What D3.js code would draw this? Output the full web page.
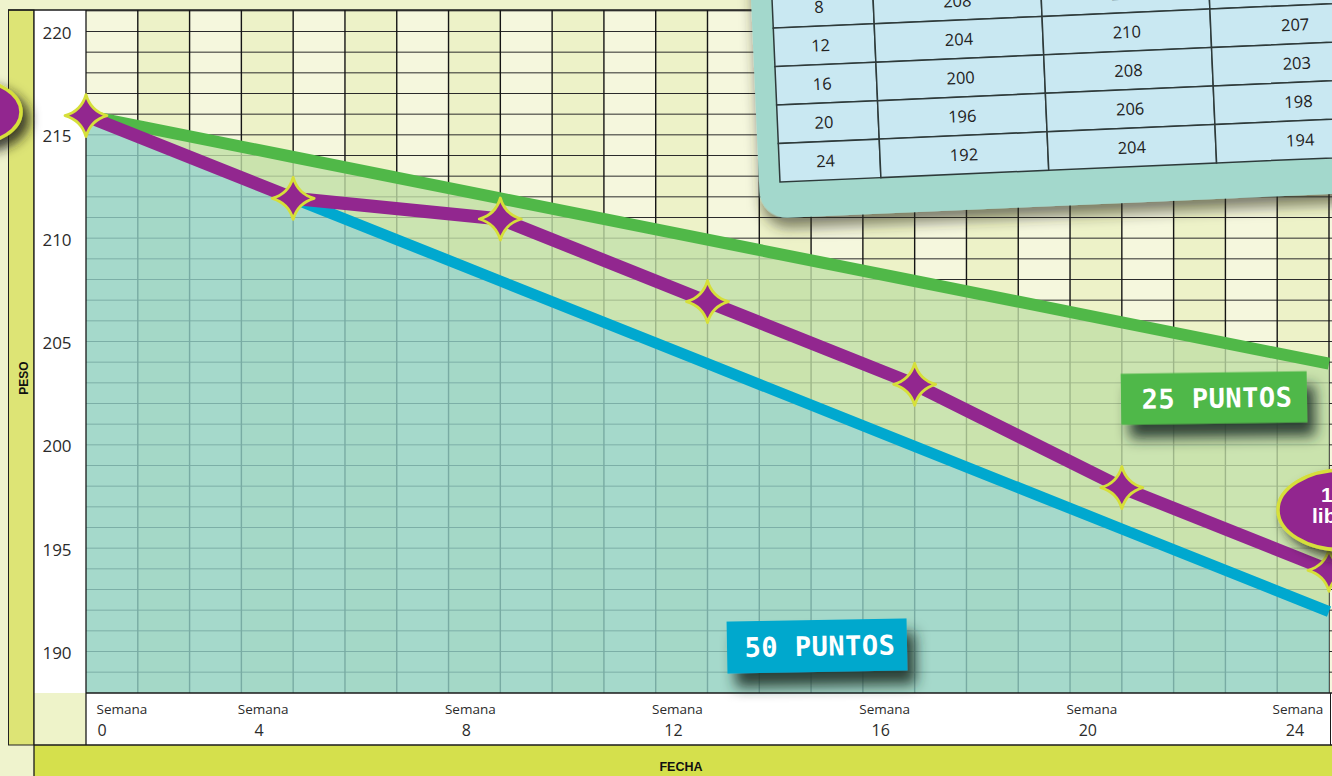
<!DOCTYPE html>
<html><head><meta charset="utf-8">
<script src="https://cdn.jsdelivr.net/npm/d3@7/dist/d3.min.js"></script>
<style>html,body{margin:0;padding:0;background:#eff3cd;overflow:hidden}svg{display:block}</style>
</head><body>
<svg id="c" width="1332" height="776"></svg>
<script>
// ---- data ----
const weeks   = [0, 4, 8, 12, 16, 20, 24];
const plan50  = [216, 212, 208, 204, 200, 196, 192];
const plan25  = [216, 214, 212, 210, 208, 206, 204];
const actual  = [216, 212, 211, 207, 203, 198, 194];
const yTicks  = [190, 195, 200, 205, 210, 215, 220];
const xTickWord = "Semana";
const tableHeader = ["Semana", "50 puntos", "25 puntos", "Real"];
const label50 = "50 PUNTOS";
const label25 = "25 PUNTOS";
const badgeText = ["12", "libras"];
const yTitle = "PESO";
const xTitle = "FECHA";

const W = 1332, H = 776;
const svg = d3.select("#c");
const x = d3.scaleLinear().domain([0, 24]).range([86, 1329]);
const y = d3.scaleLinear().domain([190, 220]).range([653, 33]);
const PL = 86, PR = W, PT = 10, PB = 693;

const defs = svg.append("defs");
defs.append("clipPath").attr("id", "plot").append("rect")
  .attr("x", PL).attr("y", PT).attr("width", PR - PL).attr("height", PB - PT);
function shadow(id, dx, dy, sd, op, col) {
  const f = defs.append("filter").attr("id", id)
    .attr("x", "-30%").attr("y", "-40%").attr("width", "170%").attr("height", "220%");
  f.append("feDropShadow").attr("dx", dx).attr("dy", dy).attr("stdDeviation", sd)
    .attr("flood-color", col).attr("flood-opacity", op);
}
shadow("shLab", 8, 14, 7, 0.9, "#1c3128");
shadow("shCard", 2, 10, 7, 0.6, "#2a2a1a");
shadow("shBadge", 7, 7, 6, 0.85, "#1e2418");

// ---- frame / bands ----
svg.append("rect").attr("width", W).attr("height", H).attr("fill", "#eff3cd");
svg.append("rect").attr("x", 8.5).attr("y", PT).attr("width", 25.5).attr("height", 745 - PT)
  .attr("fill", "#dde475").attr("stroke", "#222").attr("stroke-width", 1);
svg.append("rect").attr("x", 34).attr("y", PT).attr("width", PL - 34).attr("height", PB - PT).attr("fill", "#fff");
svg.append("rect").attr("x", 34).attr("y", PB).attr("width", PL - 34).attr("height", 745 - PB).attr("fill", "#eef3c9");
svg.append("rect").attr("x", PL).attr("y", PB).attr("width", W - PL).attr("height", 745 - PB).attr("fill", "#fff");
svg.append("rect").attr("x", 34).attr("y", 745).attr("width", W - 34).attr("height", H - 745).attr("fill", "#d5e04c");

// ---- plot ----
const g = svg.append("g").attr("clip-path", "url(#plot)");
const cols = d3.range(0, 25);
g.selectAll("rect.col").data(cols).join("rect").attr("class", "col")
  .attr("x", d => x(d)).attr("y", PT).attr("width", x(1) - x(0) + 1).attr("height", PB - PT)
  .attr("fill", d => d % 2 ? "#edf2c8" : "#f5f7dd");

const hLines = d3.range(189, 222);
g.selectAll("line.h").data(hLines).join("line").attr("class", "h")
  .attr("x1", PL).attr("x2", PR).attr("y1", d => y(d) - 1.5).attr("y2", d => y(d) - 1.5)
  .attr("stroke", "#2b2b2b").attr("stroke-width", 1);
g.selectAll("line.v").data(d3.range(1, 26)).join("line").attr("class", "v")
  .attr("x1", d => x(d)).attr("x2", d => x(d)).attr("y1", PT).attr("y2", PB)
  .attr("stroke", "#151515").attr("stroke-width", 1.4);

const pts = weeks.map((w, i) => ({ w, a: plan50[i], b: plan25[i], c: actual[i] }));
g.append("path").datum(pts)
  .attr("d", d3.area().x(d => x(d.w)).y0(d => y(d.a)).y1(d => y(d.b)))
  .attr("fill", "#c0dea6").attr("opacity", 0.8);
g.append("path").datum(pts)
  .attr("d", d3.area().x(d => x(d.w)).y0(PB).y1(d => y(d.a)))
  .attr("fill", "#91d1c7").attr("opacity", 0.8);

const line = key => d3.line().x(d => x(d.w)).y(d => y(d[key]));
g.append("path").datum(pts).attr("d", line("a")).attr("fill", "none")
  .attr("stroke", "#00a8cf").attr("stroke-width", 11);
g.append("path").datum(pts).attr("d", line("b")).attr("fill", "none")
  .attr("stroke", "#50b848").attr("stroke-width", 12);
g.append("path").datum(pts).attr("d", line("c")).attr("fill", "none")
  .attr("stroke", "#92278f").attr("stroke-width", 13);

// borders
const bl = (x1, y1, x2, y2, w) => svg.append("line").attr("x1", x1).attr("y1", y1).attr("x2", x2).attr("y2", y2)
  .attr("stroke", "#1a1a1a").attr("stroke-width", w || 1.3);
bl(8, PT, W, PT, 1.5);
bl(PL, PT, PL, 745);
bl(34, PT, 34, H);
bl(PL, PB, W, PB, 1.5);
bl(34, 745, W, 745, 1.3);
bl(1330.5, PB, 1330.5, 745, 1);

// stars
function starPath(r) {
  const c = r * 0.22;
  return `M0,${-r}Q${c},${-c} ${r},0Q${c},${c} 0,${r}Q${-c},${c} ${-r},0Q${-c},${-c} 0,${-r}Z`;
}
svg.selectAll("path.star").data(pts).join("path").attr("class", "star")
  .attr("transform", d => `translate(${x(d.w)},${y(d.c)})`)
  .attr("d", starPath(21)).attr("fill", "#92278f")
  .attr("stroke", "#d6df3a").attr("stroke-width", 2.8).attr("stroke-linejoin", "round");

// labels
function tag(cx, cy, rot, w, h, fill, text, fs) {
  const t = svg.append("g").attr("transform", `translate(${cx},${cy}) rotate(${rot})`);
  t.append("rect").attr("x", -w / 2).attr("y", -h / 2).attr("width", w).attr("height", h)
    .attr("fill", fill).attr("filter", "url(#shLab)");
  t.append("text").attr("x", 3).attr("y", fs * 0.36).attr("text-anchor", "middle")
    .attr("font-family", "DejaVu Sans Mono").attr("font-weight", "bold").attr("font-size", fs)
    .attr("letter-spacing", 0.5).attr("fill", "#fff").text(text);
}
tag(1214, 398, -0.8, 186, 51, "#50b848", label25, 27);
tag(817, 646, -1, 180, 52, "#00a8cd", label50, 27);

// table card
const card = svg.append("g").attr("transform", "translate(780,182) rotate(-2.5)");
card.append("rect").attr("x", -21).attr("y", -440).attr("width", 720).attr("height", 476)
  .attr("rx", 27).attr("fill", "#a3d8cc").attr("filter", "url(#shCard)");
const colX = [0, 101, 269, 437, 606];
const rowH = 38.5;
const rows = [tableHeader].concat(weeks.map((w, i) => [String(w), String(plan50[i]), String(plan25[i]), String(actual[i])]));
const nR = rows.length;
rows.forEach((r, ri) => {
  const top = -rowH * (nR - ri);
  r.forEach((v, ci) => {
    card.append("rect").attr("x", colX[ci]).attr("y", top).attr("width", colX[ci + 1] - colX[ci]).attr("height", rowH)
      .attr("fill", "#c9e8f2").attr("stroke", "#2e3a3a").attr("stroke-width", 1.5);
    card.append("text").attr("x", (colX[ci] + colX[ci + 1]) / 2 - (ci === 0 ? 4 : 0)).attr("y", top + rowH / 2 + 6)
      .attr("text-anchor", "middle").attr("font-family", "Open Sans").attr("font-size", 16.5)
      .attr("fill", "#222").text(v);
  });
});

// badges
function badge(cx, cy, rx, ry, lines) {
  const b = svg.append("g");
  b.append("ellipse").attr("cx", cx).attr("cy", cy).attr("rx", rx).attr("ry", ry)
    .attr("fill", "#92278f").attr("stroke", "#d6df3a").attr("stroke-width", 3.5)
    .attr("filter", "url(#shBadge)");
  lines.forEach((l, i) => b.append("text").attr("x", l.x).attr("y", l.y)
    .attr("font-family", "Liberation Sans").attr("font-weight", "bold").attr("font-size", 21)
    .attr("fill", "#fff").text(l.t));
}
badge(-29, 112, 50, 32, []);
badge(1343, 510, 65, 40, [{ t: badgeText[0], x: 1321, y: 502 }, { t: badgeText[1], x: 1312, y: 523 }]);

// y tick labels
svg.selectAll("text.yt").data(yTicks).join("text").attr("class", "yt")
  .attr("x", 57).attr("y", d => y(d) + 6).attr("text-anchor", "middle")
  .attr("font-family", "Open Sans").attr("font-size", 17).attr("fill", "#2b2b2b").text(d => d);

// x tick labels
const clamp = (v, a, b) => Math.max(a, Math.min(b, v));
svg.selectAll("text.xw").data(weeks).join("text").attr("class", "xw")
  .attr("x", d => clamp(x(d) - 30, 122, 1298)).attr("y", 714).attr("text-anchor", "middle")
  .attr("font-family", "Open Sans").attr("font-size", 13.5).attr("fill", "#2b2b2b").text(xTickWord);
svg.selectAll("text.xn").data(weeks).join("text").attr("class", "xn")
  .attr("x", d => clamp(x(d) - 34, 102, 1301)).attr("y", 736).attr("text-anchor", "middle")
  .attr("font-family", "Open Sans").attr("font-size", 16).attr("fill", "#2b2b2b").text(d => d);

// axis titles
svg.append("text").attr("transform", "translate(27.5,378) rotate(-90)").attr("text-anchor", "middle")
  .attr("font-family", "Liberation Sans").attr("font-weight", "bold").attr("font-size", 12).attr("fill", "#111").text(yTitle);
svg.append("text").attr("x", 681).attr("y", 770.5).attr("text-anchor", "middle")
  .attr("font-family", "Liberation Sans").attr("font-weight", "bold").attr("font-size", 12.5).attr("fill", "#111").text(xTitle);
</script>
</body></html>
